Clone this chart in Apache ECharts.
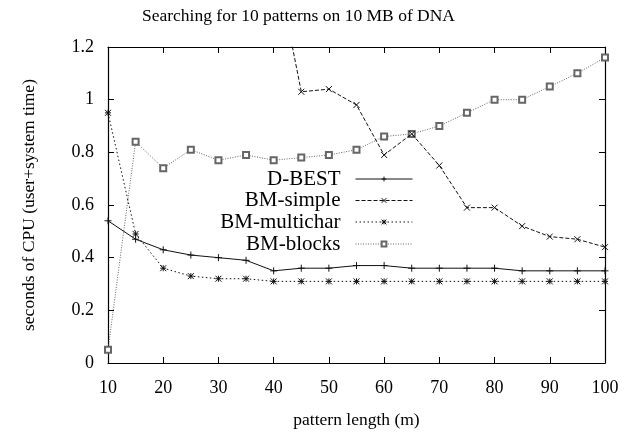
<!DOCTYPE html>
<html>
<head>
<meta charset="utf-8">
<script src="https://cdn.jsdelivr.net/npm/echarts@6/dist/echarts.min.js"></script>
<style>
  html, body { margin: 0; padding: 0; background: #fff; }
  #chart { width: 634px; height: 434px; }
</style>
</head>
<body>
<div id="chart"></div>
<script>
// Pattern lengths (m) on the x axis
const patternLengths = [10, 15, 20, 25, 30, 35, 40, 45, 50, 55, 60, 65, 70, 75, 80, 85, 90, 95, 100];

// CPU seconds (user+system) per algorithm
const dBest = [0.54, 0.47, 0.43, 0.41, 0.40, 0.39, 0.35, 0.36, 0.36, 0.37, 0.37, 0.36, 0.36, 0.36, 0.36, 0.35, 0.35, 0.35, 0.35];
const bmSimple = [null, null, null, null, null, null, 1.56, 1.03, 1.04, 0.98, 0.79, 0.87, 0.75, 0.59, 0.59, 0.52, 0.48, 0.47, 0.44];
const bmMultichar = [0.95, 0.49, 0.36, 0.33, 0.32, 0.32, 0.31, 0.31, 0.31, 0.31, 0.31, 0.31, 0.31, 0.31, 0.31, 0.31, 0.31, 0.31, 0.31];
const bmBlocks = [0.05, 0.84, 0.74, 0.81, 0.77, 0.79, 0.77, 0.78, 0.79, 0.81, 0.86, 0.87, 0.90, 0.95, 1.00, 1.00, 1.05, 1.10, 1.16];

const seriesNames = ['D-BEST', 'BM-simple', 'BM-multichar', 'BM-blocks'];
const titleText = 'Searching for 10 patterns on 10 MB of DNA';
const xAxisTitle = 'pattern length (m)';
const yAxisTitle = 'seconds of CPU (user+system time)';

const FONT = '"Liberation Serif", "DejaVu Serif", serif';

function pairs(values) {
  return patternLengths.map((x, i) => [x, values[i]]);
}

// gnuplot-style point marks
const PLUS = 'path://M0,5L10,5M5,0L5,10';
const CROSS = 'path://M0,0L10,10M10,0L0,10';
const STAR = 'path://M0,0L10,10M10,0L0,10M5,0L5,10M0,5L10,5';

const styles = [
  { values: dBest, symbol: PLUS, size: 7, color: '#111', line: 'solid' },
  { values: bmSimple, symbol: CROSS, size: 6, color: '#111', line: [4, 2] },
  { values: bmMultichar, symbol: STAR, size: 6, color: '#111', line: [1.5, 2.5] },
  { values: bmBlocks, symbol: 'emptyRect', size: 6, color: '#666', line: [1, 1.5] }
];

const series = styles.map((s, i) => ({
  name: seriesNames[i],
  type: 'line',
  data: pairs(s.values),
  symbol: s.symbol,
  symbolSize: s.size,
  showAllSymbol: true,
  clip: true,
  z: 10 - i,
  lineStyle: { color: s.color, width: 1, type: s.line },
  itemStyle: { color: s.color, borderColor: s.color, borderWidth: 1 },
  emphasis: { disabled: true }
}));

const legendRows = [179, 200.5, 222, 244];
const legends = seriesNames.map((name, i) => ({
  data: [name],
  orient: 'vertical',
  right: 221,
  top: legendRows[i] - 11,
  align: 'right',
  padding: 0,
  itemWidth: 57,
  itemHeight: 6,
  selectedMode: false,
  lineStyle: { width: 1 },
  itemStyle: { borderWidth: 1 },
  textStyle: {
    fontFamily: FONT,
    fontSize: 21,
    lineHeight: 22,
    color: '#000',
    padding: [0, 10, 0, 0]
  }
}));

const axisTick = { show: true, inside: true, length: 6, lineStyle: { color: '#000', width: 1 } };
const axisLine = { show: true, onZero: false, lineStyle: { color: '#000', width: 1.2 } };

const chart = echarts.init(document.getElementById('chart'), null, { renderer: 'canvas' });
chart.setOption({
  animation: false,
  backgroundColor: '#fff',
  title: {
    text: titleText,
    left: 137,
    top: 2,
    textStyle: { fontFamily: FONT, fontSize: 17.5, fontWeight: 'normal', color: '#000' }
  },
  legend: legends,
  grid: { left: 108, right: 29, top: 47, bottom: 71, containLabel: false },
  xAxis: [
    {
      type: 'value', position: 'bottom', min: 10, max: 100, interval: 10,
      name: xAxisTitle, nameLocation: 'middle', nameGap: 48,
      nameTextStyle: { fontFamily: FONT, fontSize: 17.5, color: '#000' },
      axisLine, axisTick,
      axisLabel: { margin: 16, fontFamily: FONT, fontSize: 18, color: '#000' },
      splitLine: { show: false }
    },
    {
      type: 'value', position: 'top', min: 10, max: 100, interval: 10,
      axisLine, axisTick, axisLabel: { show: false }, splitLine: { show: false }
    }
  ],
  yAxis: [
    {
      type: 'value', position: 'left', min: 0, max: 1.2, interval: 0.2,
      name: yAxisTitle, nameLocation: 'middle', nameGap: 70, nameRotate: 90,
      nameTextStyle: { fontFamily: FONT, fontSize: 17.5, color: '#000' },
      axisLine, axisTick,
      axisLabel: {
        margin: 14, fontFamily: FONT, fontSize: 18, color: '#000',
        formatter: v => String(Math.round(v * 10) / 10)
      },
      splitLine: { show: false }
    },
    {
      type: 'value', position: 'right', min: 0, max: 1.2, interval: 0.2,
      axisLine, axisTick, axisLabel: { show: false }, splitLine: { show: false }
    }
  ],
  series
});
</script>
</body>
</html>
